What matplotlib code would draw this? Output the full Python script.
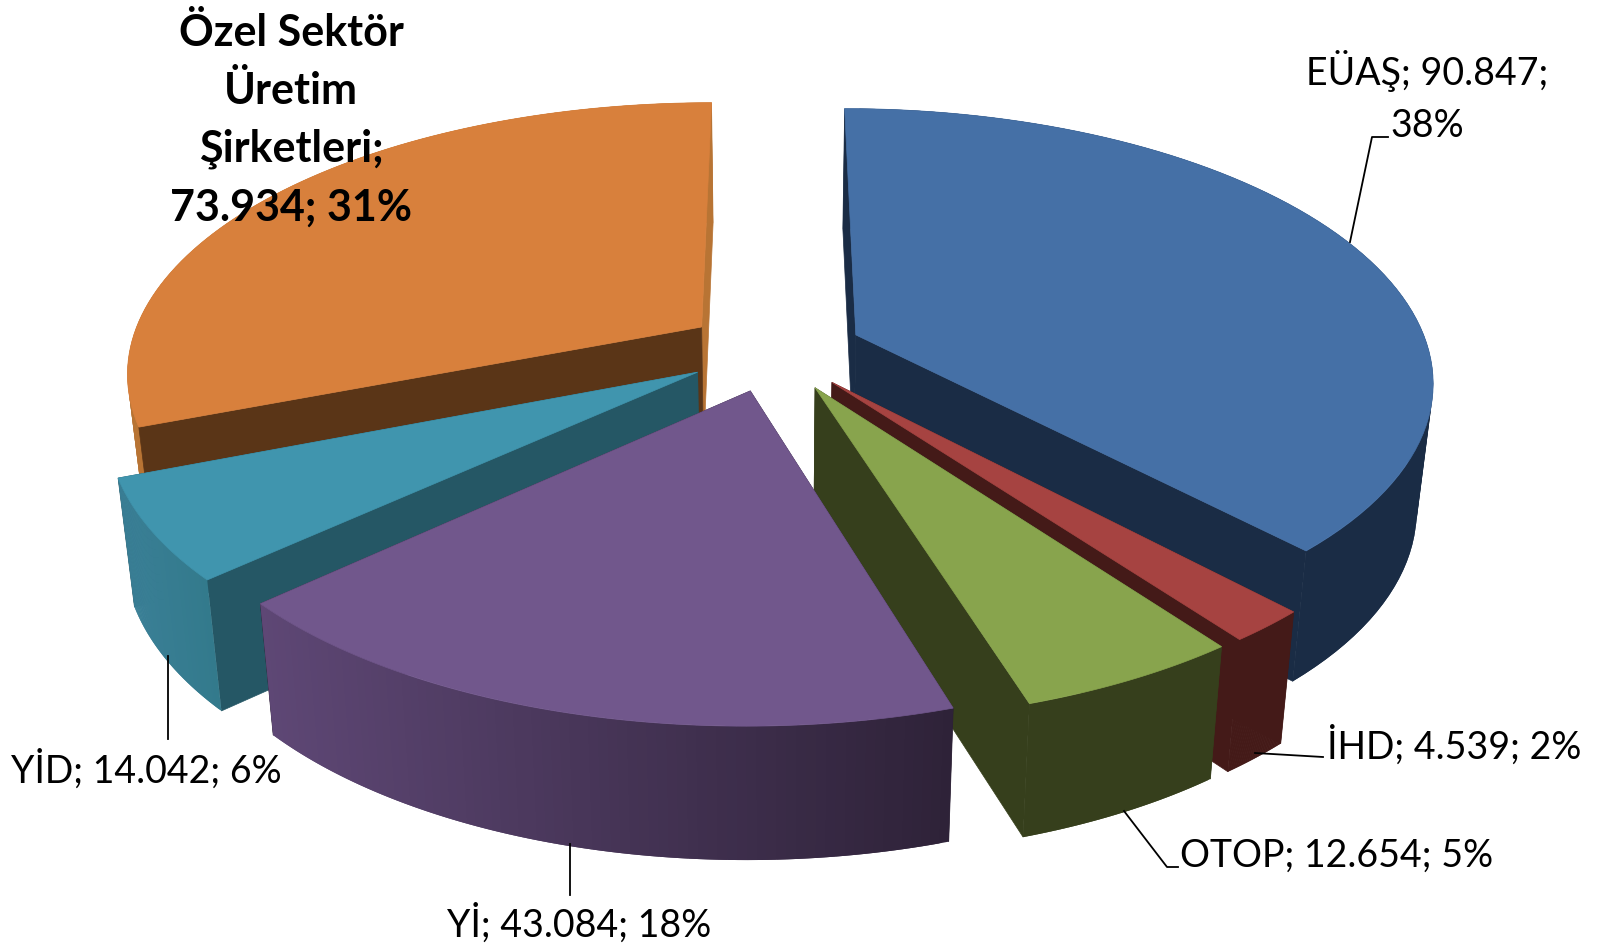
import numpy as np
import matplotlib.pyplot as plt
from matplotlib.colors import to_rgb

# dati della torta
nomi = ['EÜAŞ', 'İHD', 'OTOP', 'Yİ', 'YİD', 'Özel Sektör Üretim Şirketleri']
valori = [90.847, 4.539, 12.654, 43.084, 14.042, 73.934]
percentuali = [38, 2, 5, 18, 6, 31]
col_top = ['#4570A6', '#A64341', '#88A44D', '#71578C', '#4095AE', '#D8803C']
col_lato = ['#1A2C45', '#441A18', '#363F1C', '#2B2033', '#255765', '#5A3517']
col_est_sx = ['#1A2C45', '#441A18', '#363F1C', '#5E4775', '#3A7F96', '#B87434']
col_est_dx = ['#1A2C45', '#441A18', '#363F1C', '#2E2238', '#337A8C', '#B87434']

# proiezione prospettica fatta a mano (pixel della figura)
cx, cy = 774, 351
S, A, k = 573, 267, 0.16
D = 126
espl = 0.155


def proietta(X, Y):
    f = 1 / (1 + k * Y)
    return cx + S * X * f, cy - A * Y * f


def sotto(x, y, Y):
    f = 1 / (1 + k * Y)
    return cx + (x - cx) * 0.975, y + D * f**0.3


fig = plt.figure(figsize=(16.06, 9.45), dpi=100)
ax = fig.add_axes([0, 0, 1, 1])
ax.set_xlim(0, 1606)
ax.set_ylim(945, 0)
ax.axis('off')

angoli = np.cumsum([0] + valori) / sum(valori) * 2 * np.pi
ordine = [5, 0, 4, 1, 2, 3]  # dal fondo verso il davanti

for i in ordine:
    a0, a1 = angoli[i], angoli[i + 1]
    mid = (a0 + a1) / 2
    ox, oy = espl * np.sin(mid), espl * np.cos(mid)
    t = np.linspace(a0, a1, 80)
    X = ox + np.sin(t)
    Y = oy + np.cos(t)
    xt, yt = proietta(X, Y)
    xb, yb = sotto(xt, yt, Y)
    x0, y0 = proietta(ox, oy)
    xb0, yb0 = sotto(x0, y0, oy)

    # pareti radiali (per l'arancione vanno sopra la parete esterna)
    if i != 5:
        for j in [0, -1]:
            ax.fill([x0, xt[j], xb[j], xb0], [y0, yt[j], yb[j], yb0],
                    color=col_lato[i], lw=0.5)

    # parete esterna a sfumatura: ogni pezzo copre anche il successivo
    c1 = np.array(to_rgb(col_est_sx[i]))
    c2 = np.array(to_rgb(col_est_dx[i]))
    xmin, xmax = xt.min(), xt.max()
    for j in range(len(t) - 1):
        n = min(j + 3, len(t))
        q = (xt[j:j + 2].mean() - xmin) / (xmax - xmin)
        ax.fill(np.r_[xt[j:n], xb[j:n][::-1]], np.r_[yt[j:n], yb[j:n][::-1]],
                color=c1 + (c2 - c1) * q, lw=0)

    if i == 5:
        ax.fill([x0, xt[-1], xb[-1], xb0], [y0, yt[-1], yb[-1], yb0],
                color=col_est_sx[5], lw=0.5)
        ax.fill([x0, xt[0], xb[0], xb0], [y0, yt[0], yb[0], yb0],
                color=col_lato[5], lw=0.5)

    # faccia superiore
    ax.fill(np.r_[x0, xt], np.r_[y0, yt], color=col_top[i], lw=0.5)

# linee guida
guide = [
    ([1350, 1372, 1388], [243, 138, 138]),
    ([1255, 1323], [754, 758]),
    ([1124, 1167, 1178], [812, 868, 868]),
    ([570, 570], [845, 896]),
    ([168, 168], [657, 740]),
]
for gx, gy in guide:
    ax.plot(gx, gy, color='black', lw=1.3)

plt.rcParams['font.family'] = ['Lato', 'DejaVu Sans']
fs = 27


def etichetta(i):
    return f'{nomi[i]}; {valori[i]:.3f}; {percentuali[i]}%'


ax.text(1427, 97, f'{nomi[0]}; {valori[0]:.3f};\n{percentuali[0]}%', fontsize=fs,
        ha='center', va='center', linespacing=1.55)
ax.text(1581, 746, etichetta(1), fontsize=fs, ha='right', va='center')
ax.text(1180, 856, etichetta(2), fontsize=fs, ha='left', va='center')
ax.text(579, 924, etichetta(3), fontsize=fs, ha='center', va='center')
ax.text(146, 770, etichetta(4), fontsize=fs, ha='center', va='center')
ax.text(291, 120, f'Özel Sektör\nÜretim\nŞirketleri;\n{valori[5]:.3f}; {percentuali[5]}%',
        fontsize=31, fontweight='bold', ha='center', va='center', linespacing=1.55)

fig.savefig('out.png', dpi=100)
